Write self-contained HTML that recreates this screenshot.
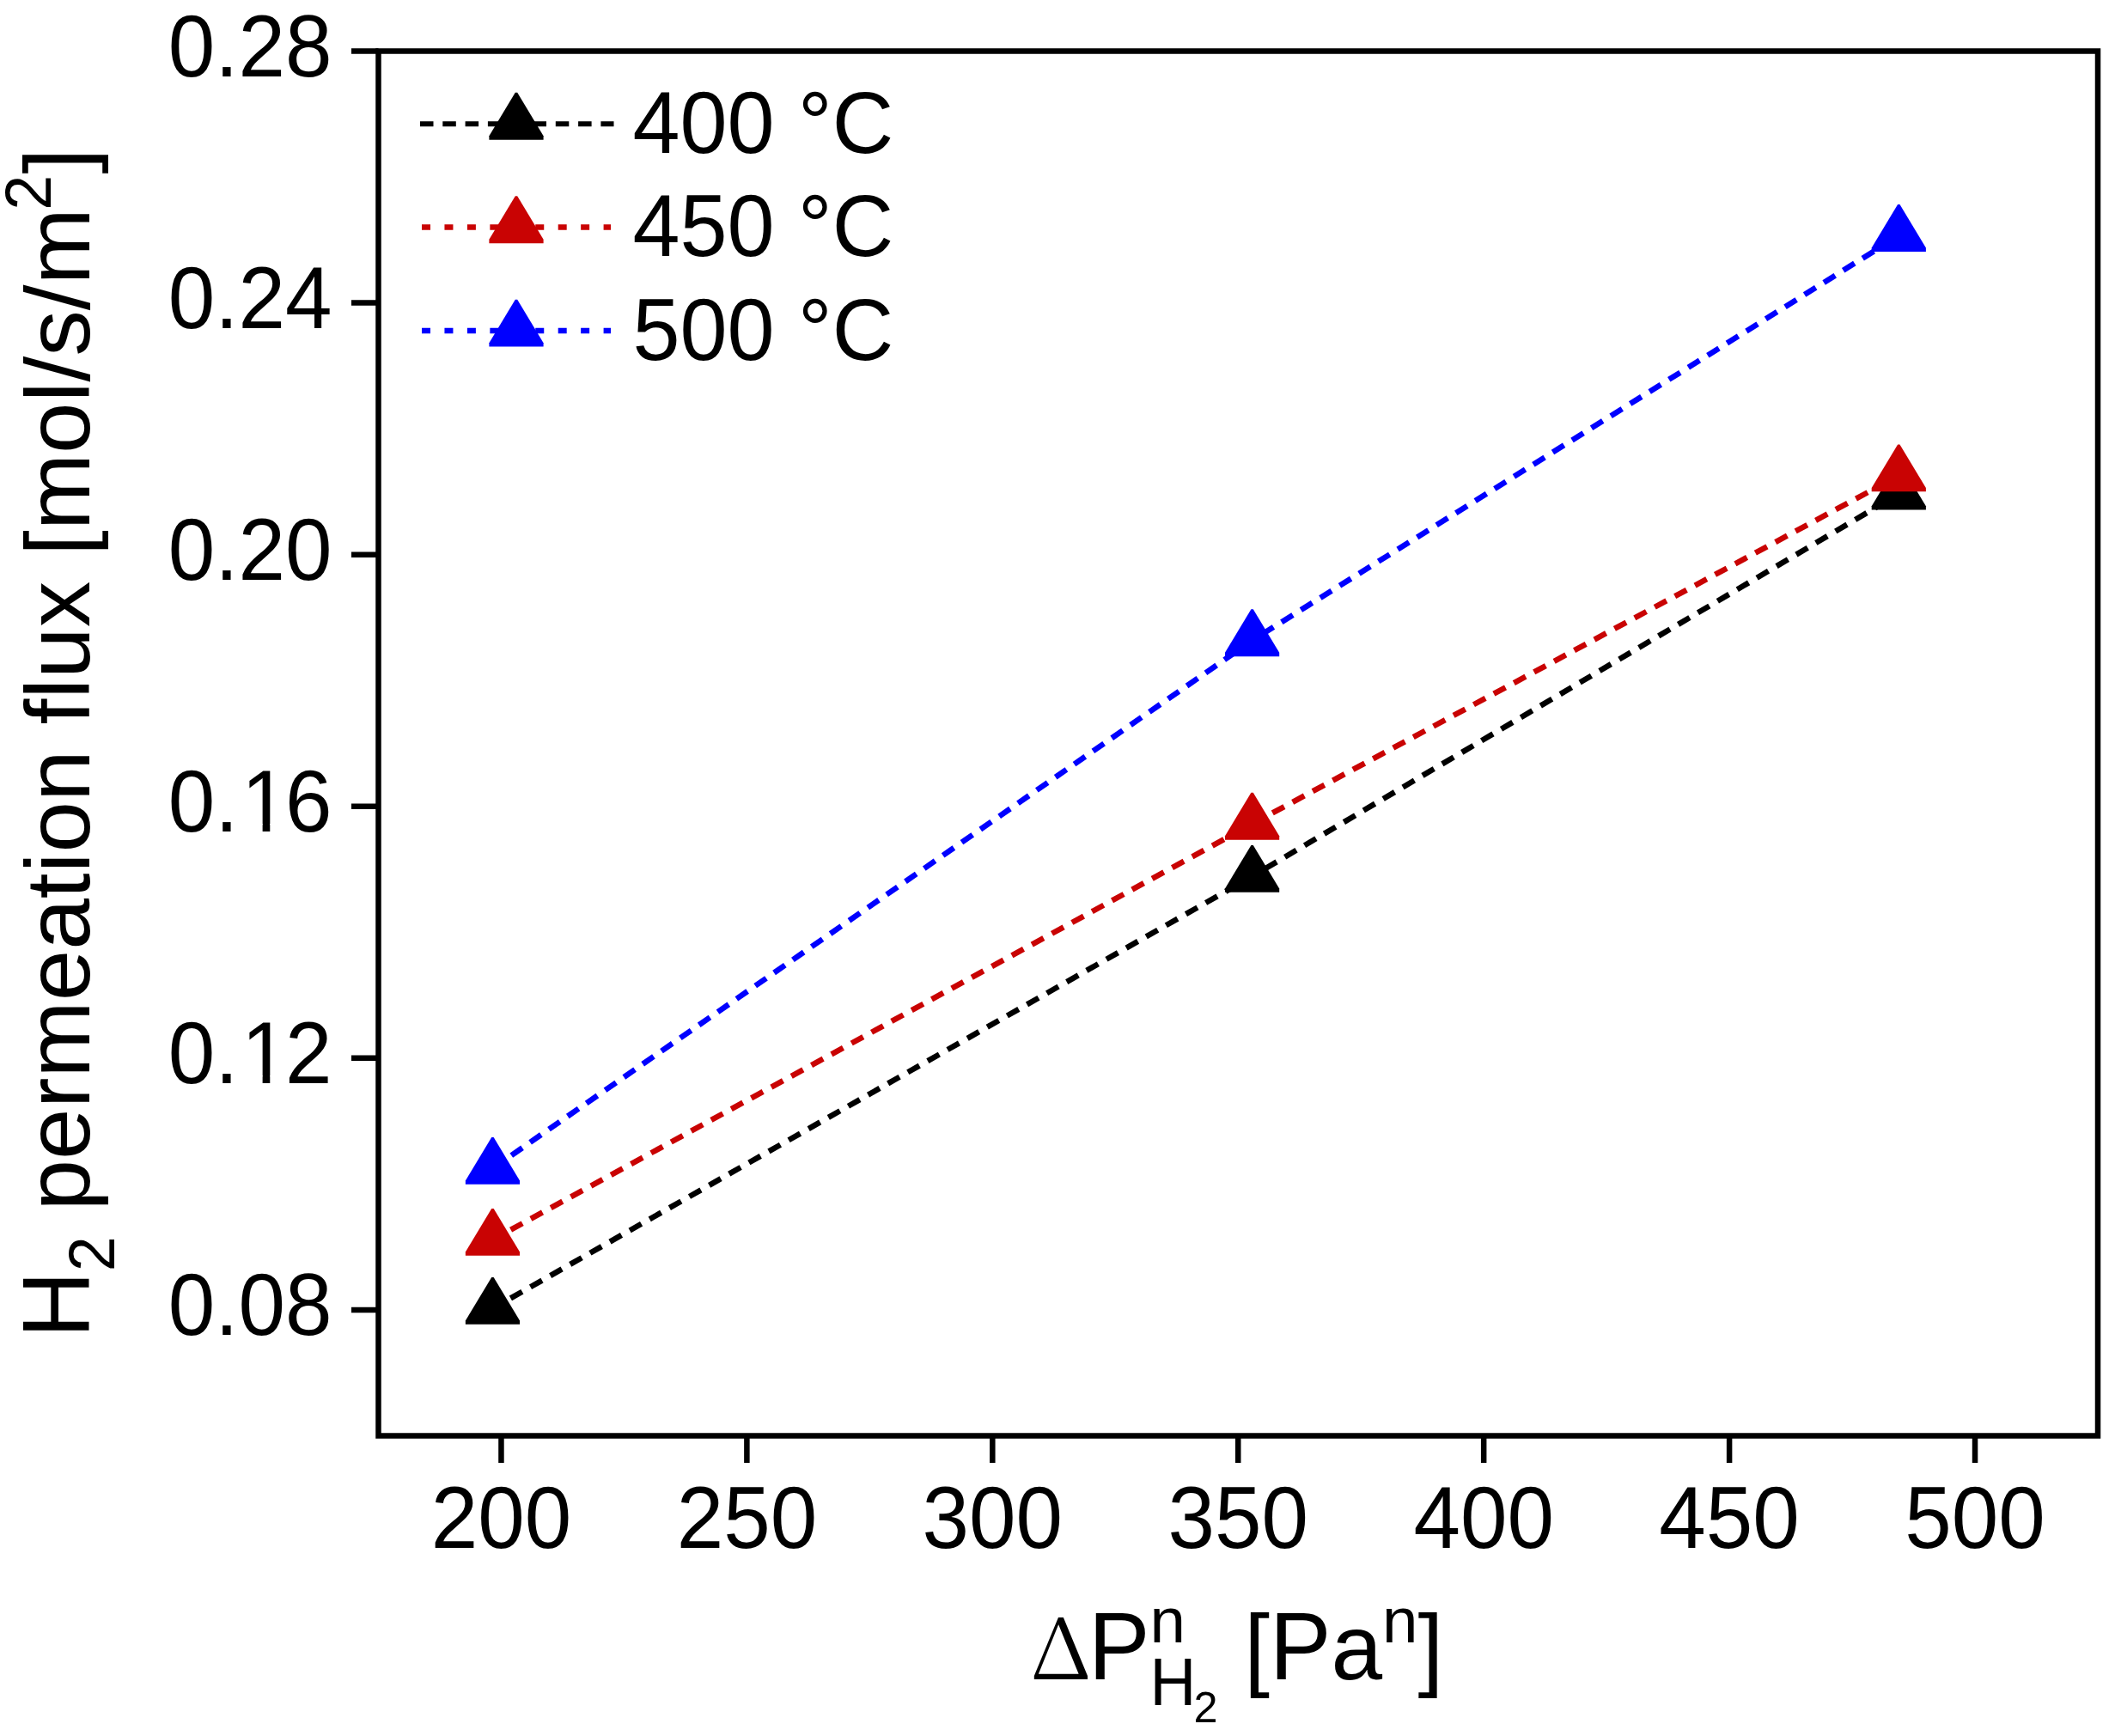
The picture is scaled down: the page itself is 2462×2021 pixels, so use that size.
<!DOCTYPE html><html><head><meta charset="utf-8"><title>H2 permeation flux</title>
<style>html,body{margin:0;padding:0;background:#fff;}svg{display:block;}text{font-family:"Liberation Sans",Arial,sans-serif;fill:#000;font-kerning:none;white-space:pre;}</style></head><body>
<svg width="2462" height="2021" viewBox="0 0 2462 2021">
<rect x="0" y="0" width="2462" height="2021" fill="#fff"/>
<polyline points="573.45,1523.30 1457.60,1020.25 2210.30,575.00" fill="none" stroke="#000" stroke-width="6.5" stroke-dasharray="15.5 11.1" stroke-dashoffset="2.5" stroke-linecap="butt"/>
<polygon points="572.25,1486.95 574.65,1486.95 605.05,1537.45 605.05,1541.85 541.85,1541.85 541.85,1537.45" fill="#000"/>
<polygon points="1456.40,983.90 1458.80,983.90 1489.20,1034.40 1489.20,1038.80 1426.00,1038.80 1426.00,1034.40" fill="#000"/>
<polygon points="2209.10,538.65 2211.50,538.65 2241.90,589.15 2241.90,593.55 2178.70,593.55 2178.70,589.15" fill="#000"/>
<polyline points="573.45,1443.25 1457.60,959.15 2210.30,553.75" fill="none" stroke="#c90303" stroke-width="6.5" stroke-dasharray="15.5 11.1" stroke-dashoffset="2.5" stroke-linecap="butt"/>
<polygon points="572.25,1406.90 574.65,1406.90 605.05,1457.40 605.05,1461.80 541.85,1461.80 541.85,1457.40" fill="#c90303"/>
<polygon points="1456.40,922.80 1458.80,922.80 1489.20,973.30 1489.20,977.70 1426.00,977.70 1426.00,973.30" fill="#c90303"/>
<polygon points="2209.10,517.40 2211.50,517.40 2241.90,567.90 2241.90,572.30 2178.70,572.30 2178.70,567.90" fill="#c90303"/>
<polyline points="573.45,1360.25 1457.60,745.65 2210.30,274.35" fill="none" stroke="#0000ff" stroke-width="6.5" stroke-dasharray="15.5 11.1" stroke-dashoffset="0.0" stroke-linecap="butt"/>
<polygon points="572.25,1323.90 574.65,1323.90 605.05,1374.40 605.05,1378.80 541.85,1378.80 541.85,1374.40" fill="#0000ff"/>
<polygon points="1456.40,709.30 1458.80,709.30 1489.20,759.80 1489.20,764.20 1426.00,764.20 1426.00,759.80" fill="#0000ff"/>
<polygon points="2209.10,238.00 2211.50,238.00 2241.90,288.50 2241.90,292.90 2178.70,292.90 2178.70,288.50" fill="#0000ff"/>
<rect x="440.50" y="59.50" width="2001.50" height="1612.00" fill="none" stroke="#000" stroke-width="6.5"/>
<path d="M583.46 1671.50V1703.00M869.39 1671.50V1703.00M1155.32 1671.50V1703.00M1441.25 1671.50V1703.00M1727.18 1671.50V1703.00M2013.11 1671.50V1703.00M2299.04 1671.50V1703.00M440.50 59.50H409.00M440.50 352.59H409.00M440.50 645.68H409.00M440.50 938.77H409.00M440.50 1231.86H409.00M440.50 1524.95H409.00" stroke="#000" stroke-width="6.5" fill="none"/>
<text transform="translate(583.46,1801.90) scale(1,1.040)" font-size="98.00" text-anchor="middle">200</text>
<text transform="translate(869.39,1801.90) scale(1,1.040)" font-size="98.00" text-anchor="middle">250</text>
<text transform="translate(1155.32,1801.90) scale(1,1.040)" font-size="98.00" text-anchor="middle">300</text>
<text transform="translate(1441.25,1801.90) scale(1,1.040)" font-size="98.00" text-anchor="middle">350</text>
<text transform="translate(1727.18,1801.90) scale(1,1.040)" font-size="98.00" text-anchor="middle">400</text>
<text transform="translate(2013.11,1801.90) scale(1,1.040)" font-size="98.00" text-anchor="middle">450</text>
<text transform="translate(2299.04,1801.90) scale(1,1.040)" font-size="98.00" text-anchor="middle">500</text>
<defs><clipPath id="one" clipPathUnits="userSpaceOnUse"><path d="M-10 -95.70H80V-8.52H33.30V5H24.64V-8.52H-10Z"/></clipPath></defs>
<text transform="translate(386.50,88.70) scale(1,1.040)" font-size="98.00" text-anchor="end">0.28</text>
<text transform="translate(386.50,381.79) scale(1,1.040)" font-size="98.00" text-anchor="end">0.24</text>
<text transform="translate(386.50,674.88) scale(1,1.040)" font-size="98.00" text-anchor="end">0.20</text>
<text transform="translate(195.76,967.97) scale(1,1.040)" font-size="98.00">0.</text>
<text transform="translate(280.99,967.97) scale(1,1.040)" font-size="98.00" clip-path="url(#one)">1</text>
<text transform="translate(332.00,967.97) scale(1,1.040)" font-size="98.00">6</text>
<text transform="translate(195.76,1261.06) scale(1,1.040)" font-size="98.00">0.</text>
<text transform="translate(280.99,1261.06) scale(1,1.040)" font-size="98.00" clip-path="url(#one)">1</text>
<text transform="translate(332.00,1261.06) scale(1,1.040)" font-size="98.00">2</text>
<text transform="translate(386.50,1554.15) scale(1,1.040)" font-size="98.00" text-anchor="end">0.08</text>
<line x1="489" y1="144.2" x2="714.5" y2="144.2" stroke="#000" stroke-width="6" stroke-dasharray="15.5 10.8"/>
<polygon points="599.80,107.85 602.20,107.85 632.60,158.35 632.60,162.75 569.40,162.75 569.40,158.35" fill="#000"/>
<text transform="translate(736.40,178.00) scale(1,1.025)" font-size="99.00">400 °C</text>
<line x1="491" y1="264.6" x2="711" y2="264.6" stroke="#c90303" stroke-width="6.5" stroke-dasharray="10 16.45"/>
<polygon points="599.80,228.25 602.20,228.25 632.60,278.75 632.60,283.15 569.40,283.15 569.40,278.75" fill="#c90303"/>
<text transform="translate(736.40,298.40) scale(1,1.025)" font-size="99.00">450 °C</text>
<line x1="491" y1="385.0" x2="711" y2="385.0" stroke="#0000ff" stroke-width="6.5" stroke-dasharray="10 16.45"/>
<polygon points="599.80,348.65 602.20,348.65 632.60,399.15 632.60,403.55 569.40,403.55 569.40,399.15" fill="#0000ff"/>
<text transform="translate(736.40,418.80) scale(1,1.025)" font-size="99.00">500 °C</text>
<text transform="translate(1198.7,1954.80) scale(1.078,1)" font-size="98.1" style="font-family:'Noto Serif CJK SC','Liberation Serif',serif">Δ</text>
<text transform="translate(1267.10,1954.80) scale(1,1.040)" font-size="107.20">P</text>
<text x="1338.60" y="1912.00" font-size="74.50">n</text>
<text transform="translate(1338.60,1984.80) scale(1,1.040)" font-size="74.50">H</text>
<text x="1389.40" y="2005.00" font-size="50.40">2</text>
<text x="1418.40" y="1954.80" font-size="107.20"> [</text>
<text transform="translate(1477.97,1954.80) scale(1,1.040)" font-size="107.20">P</text>
<text x="1549.47" y="1954.80" font-size="107.20">a</text>
<text x="1609.09" y="1912.00" font-size="74.50">n</text>
<text x="1650.52" y="1954.80" font-size="107.20">]</text>
<g transform="translate(104.1,1557.6) rotate(-90)">
<text transform="translate(0.00,0.00) scale(1,1.040)" font-size="107.20">H</text>
<text transform="translate(77.42,29.00) scale(1,1.040)" font-size="73.50">2</text>
<text transform="translate(118.29,0.00) scale(1,0.985)" font-size="107.20"> permeation flux [mol/s/m</text>
<text transform="translate(1312.76,-44.70) scale(1,1.040)" font-size="73.50">2</text>
<text x="1355.14" y="0.00" font-size="107.20">]</text>
</g>
</svg></body></html>
